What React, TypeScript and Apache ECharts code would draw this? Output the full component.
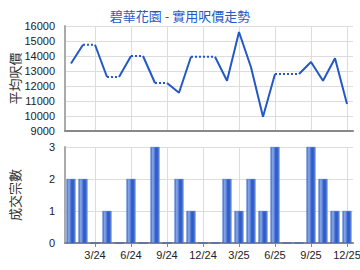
import React, { useEffect, useRef } from "react";
import * as echarts from "echarts";

const months = [
  "1/24", "2/24", "3/24", "4/24", "5/24", "6/24", "7/24", "8/24", "9/24", "10/24", "11/24", "12/24",
  "1/25", "2/25", "3/25", "4/25", "5/25", "6/25", "7/25", "8/25", "9/25", "10/25", "11/25", "12/25",
];
const prices = [
  13500, 14750, 14750, 12600, 12600, 14000, 14000, 12200, 12200, 11550, 13950, 13950,
  13950, 12350, 15600, 13250, 9950, 12800, 12800, 12800, 13600, 12350, 13850, 10800,
];
const deals = [2, 2, 0, 1, 0, 2, 0, 3, 0, 2, 1, 0, 0, 2, 1, 2, 1, 3, 0, 0, 3, 2, 1, 1];
const priceTicks = { min: 9000, max: 16000, interval: 1000 };
const dealTicks = { min: 0, max: 3, interval: 1 };

const TITLE = "碧華花園 - 實用呎價走勢";
const LINE_COLOR = "#2358c8";
const FONT = "'Liberation Sans', Arial, sans-serif";
const CJK = "'Noto Sans CJK TC', 'Noto Sans CJK SC', sans-serif";

const labelShown = (i: number) => i % 3 === 2;

function buildRuns() {
  const runs: { dotted: boolean; start: number; end: number }[] = [];
  for (let i = 0; i < prices.length - 1; i++) {
    const dotted = deals[i + 1] === 0;
    const last = runs[runs.length - 1];
    if (last && last.dotted === dotted && last.end === i) last.end = i + 1;
    else runs.push({ dotted, start: i, end: i + 1 });
  }
  return runs;
}

export default function App() {
  const ref = useRef<HTMLDivElement>(null);
  useEffect(() => {
    if (!ref.current) return;
    const chart = echarts.init(ref.current, undefined, { renderer: "svg" });
    const runs = buildRuns();
    const lineSeries = runs.map((r) => ({
      type: "line",
      xAxisIndex: 0,
      yAxisIndex: 0,
      data: prices.map((v, i) => (i >= r.start && i <= r.end ? v : null)),
      showSymbol: false,
      symbol: "none",
      connectNulls: false,
      lineStyle: { color: LINE_COLOR, width: 2, type: r.dotted ? [2, 2] : "solid" },
      silent: true,
    }));
    const xCommon = {
      type: "category",
      data: months,
      boundaryGap: true,
      splitLine: {
        show: true,
        alignWithLabel: true,
        interval: (i: number) => labelShown(i),
        lineStyle: { color: "#dddddd", width: 1 },
      },
    };
    const yCommon = {
      type: "value",
      nameLocation: "middle",
      nameRotate: 90,
      nameMoveOverlap: false,
      nameTextStyle: { fontFamily: CJK, fontSize: 13, color: "#333" },
      axisLine: { show: true, lineStyle: { color: "#aaaaaa", width: 2 } },
      axisTick: { show: false },
      axisLabel: {
        fontFamily: FONT,
        fontSize: 11,
        color: "#222",
        margin: 10,
        formatter: (v: number) => String(v),
      },
      splitLine: { show: true, lineStyle: { color: "#dddddd", width: 1 } },
    };
    chart.setOption({
      animation: false,
      title: {
        text: TITLE,
        left: "center",
        top: 4,
        textStyle: { fontFamily: CJK, fontSize: 13, fontWeight: "normal", color: "#1f5bc4" },
      },
      grid: [
        { left: 65, right: 7, top: 26, height: 105, outerBoundsMode: "none", containLabel: false },
        { left: 65, right: 7, top: 147, height: 96, outerBoundsMode: "none", containLabel: false },
      ],
      xAxis: [
        {
          ...xCommon,
          gridIndex: 0,
          axisTick: { show: false },
          axisLine: { show: true, lineStyle: { color: "#888888", width: 2 } },
          axisLabel: { show: false },
        },
        {
          ...xCommon,
          gridIndex: 1,
          axisTick: {
            show: true,
            alignWithLabel: true,
            interval: (i: number) => labelShown(i),
            length: 4,
            lineStyle: { color: "#888888" },
          },
          axisLine: { show: true, lineStyle: { color: "#888888", width: 2 } },
          axisLabel: {
            show: true,
            interval: (i: number) => labelShown(i),
            fontFamily: FONT,
            fontSize: 11,
            color: "#222",
            margin: 6,
          },
        },
      ],
      yAxis: [
        { ...yCommon, gridIndex: 0, name: "平均呎價", nameGap: 44, ...priceTicks },
        { ...yCommon, gridIndex: 1, name: "成交宗數", nameGap: 44, ...dealTicks },
      ],
      series: [
        ...lineSeries,
        {
          type: "bar",
          xAxisIndex: 1,
          yAxisIndex: 1,
          data: deals,
          barWidth: 9,
          silent: true,
          itemStyle: {
            color: new echarts.graphic.LinearGradient(0, 0, 1, 0, [
              { offset: 0, color: "#4a74d0" },
              { offset: 0.25, color: "#8aaaea" },
              { offset: 0.6, color: "#2a58c4" },
              { offset: 0.85, color: "#3a66cc" },
              { offset: 1, color: "#8aa8e8" },
            ]),
            borderColor: "#2f5dc6",
            borderWidth: 0.5,
          },
        },
      ],
    });
    return () => chart.dispose();
  }, []);
  return (
    <div
      ref={ref}
      style={{ position: "fixed", left: 0, top: 0, width: 360, height: 270, background: "#fff" }}
    />
  );
}
